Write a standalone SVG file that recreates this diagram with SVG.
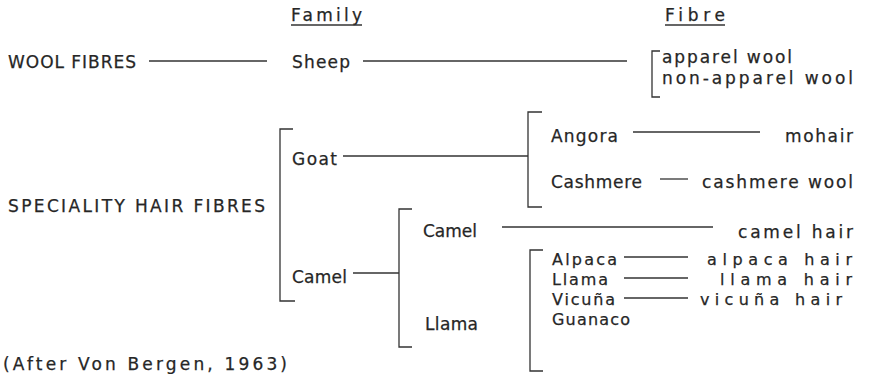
<svg xmlns="http://www.w3.org/2000/svg" width="874" height="374" viewBox="0 0 874 374">
<style>
text{font-family:"DejaVu Sans","Liberation Sans",sans-serif;font-size:17px;fill:#262626;stroke:#262626;stroke-width:0.25;}
text.s{font-size:16px;}
.c line,.c path{stroke:#333;stroke-width:1.3;fill:none;}
.u{stroke:#333;stroke-width:1.3;}
</style>
<rect width="874" height="374" fill="#fff"/>
<g id="headers">
<text x="291" y="21" textLength="71" lengthAdjust="spacing">Family</text>
<line class="u" x1="291" y1="25" x2="362" y2="25"/>
<text x="665" y="21" textLength="60" lengthAdjust="spacing">Fibre</text>
<line class="u" x1="665" y1="25" x2="725" y2="25"/>
</g>
<g class="c" id="connectors">
<line x1="149" y1="61" x2="267" y2="61"/>
<line x1="363" y1="61" x2="627" y2="61"/>
<path d="M660,51 H652 V97 H660"/>
<path d="M293,129 H280 V301 H295"/>
<line x1="343" y1="156" x2="528" y2="156"/>
<path d="M542,112 H528 V207 H542"/>
<line x1="633" y1="132" x2="760" y2="132"/>
<line x1="660" y1="179" x2="688" y2="179"/>
<path d="M412,209 H399 V347 H412"/>
<line x1="353" y1="273" x2="399" y2="273"/>
<line x1="502" y1="227" x2="713" y2="227"/>
<path d="M543,250 H530 V371 H543"/>
<line x1="624" y1="257" x2="688" y2="257"/>
<line x1="624" y1="278" x2="688" y2="278"/>
<line x1="624" y1="298" x2="688" y2="298"/>
</g>
<g id="wool-fibres"><text x="8" y="68" textLength="128" lengthAdjust="spacing">WOOL FIBRES</text></g>
<g id="sheep"><text x="292" y="68" textLength="58" lengthAdjust="spacing">Sheep</text></g>
<g id="apparel-wool"><text x="662" y="63" textLength="130" lengthAdjust="spacing">apparel wool</text></g>
<g id="non-apparel-wool"><text x="662" y="84" textLength="191" lengthAdjust="spacing">non-apparel wool</text></g>
<g id="speciality-hair-fibres"><text x="8" y="212" textLength="257" lengthAdjust="spacing">SPECIALITY HAIR FIBRES</text></g>
<g id="goat"><text x="292" y="165" textLength="45" lengthAdjust="spacing">Goat</text></g>
<g id="angora"><text x="551" y="142" textLength="67" lengthAdjust="spacing">Angora</text></g>
<g id="mohair"><text x="785" y="142" textLength="68" lengthAdjust="spacing">mohair</text></g>
<g id="cashmere"><text x="551" y="188" textLength="91" lengthAdjust="spacing">Cashmere</text></g>
<g id="cashmere-wool"><text x="702" y="188" textLength="151" lengthAdjust="spacing">cashmere wool</text></g>
<g id="camel-family"><text x="292" y="283" textLength="55" lengthAdjust="spacing">Camel</text></g>
<g id="camel"><text x="423" y="237" textLength="54" lengthAdjust="spacing">Camel</text></g>
<g id="camel-hair"><text x="738" y="238" textLength="115" lengthAdjust="spacing">camel hair</text></g>
<g id="llama-group"><text x="425" y="330" textLength="53" lengthAdjust="spacing">Llama</text></g>
<g id="alpaca"><text class="s" x="552" y="265" textLength="65" lengthAdjust="spacing">Alpaca</text></g>
<g id="alpaca-hair"><text class="s" x="707" y="265" textLength="145" lengthAdjust="spacing">alpaca hair</text></g>
<g id="llama"><text class="s" x="552" y="285" textLength="56" lengthAdjust="spacing">Llama</text></g>
<g id="llama-hair"><text class="s" x="720" y="285" textLength="132" lengthAdjust="spacing">llama hair</text></g>
<g id="vicuna"><text class="s" x="552" y="305" textLength="63" lengthAdjust="spacing">Vicuña</text></g>
<g id="vicuna-hair"><text class="s" x="700" y="305" textLength="142" lengthAdjust="spacing">vicuña hair</text></g>
<g id="guanaco"><text class="s" x="552" y="325" textLength="78" lengthAdjust="spacing">Guanaco</text></g>
<g id="source"><text x="3" y="370" textLength="284" lengthAdjust="spacing">(After Von Bergen, 1963)</text></g>
</svg>
